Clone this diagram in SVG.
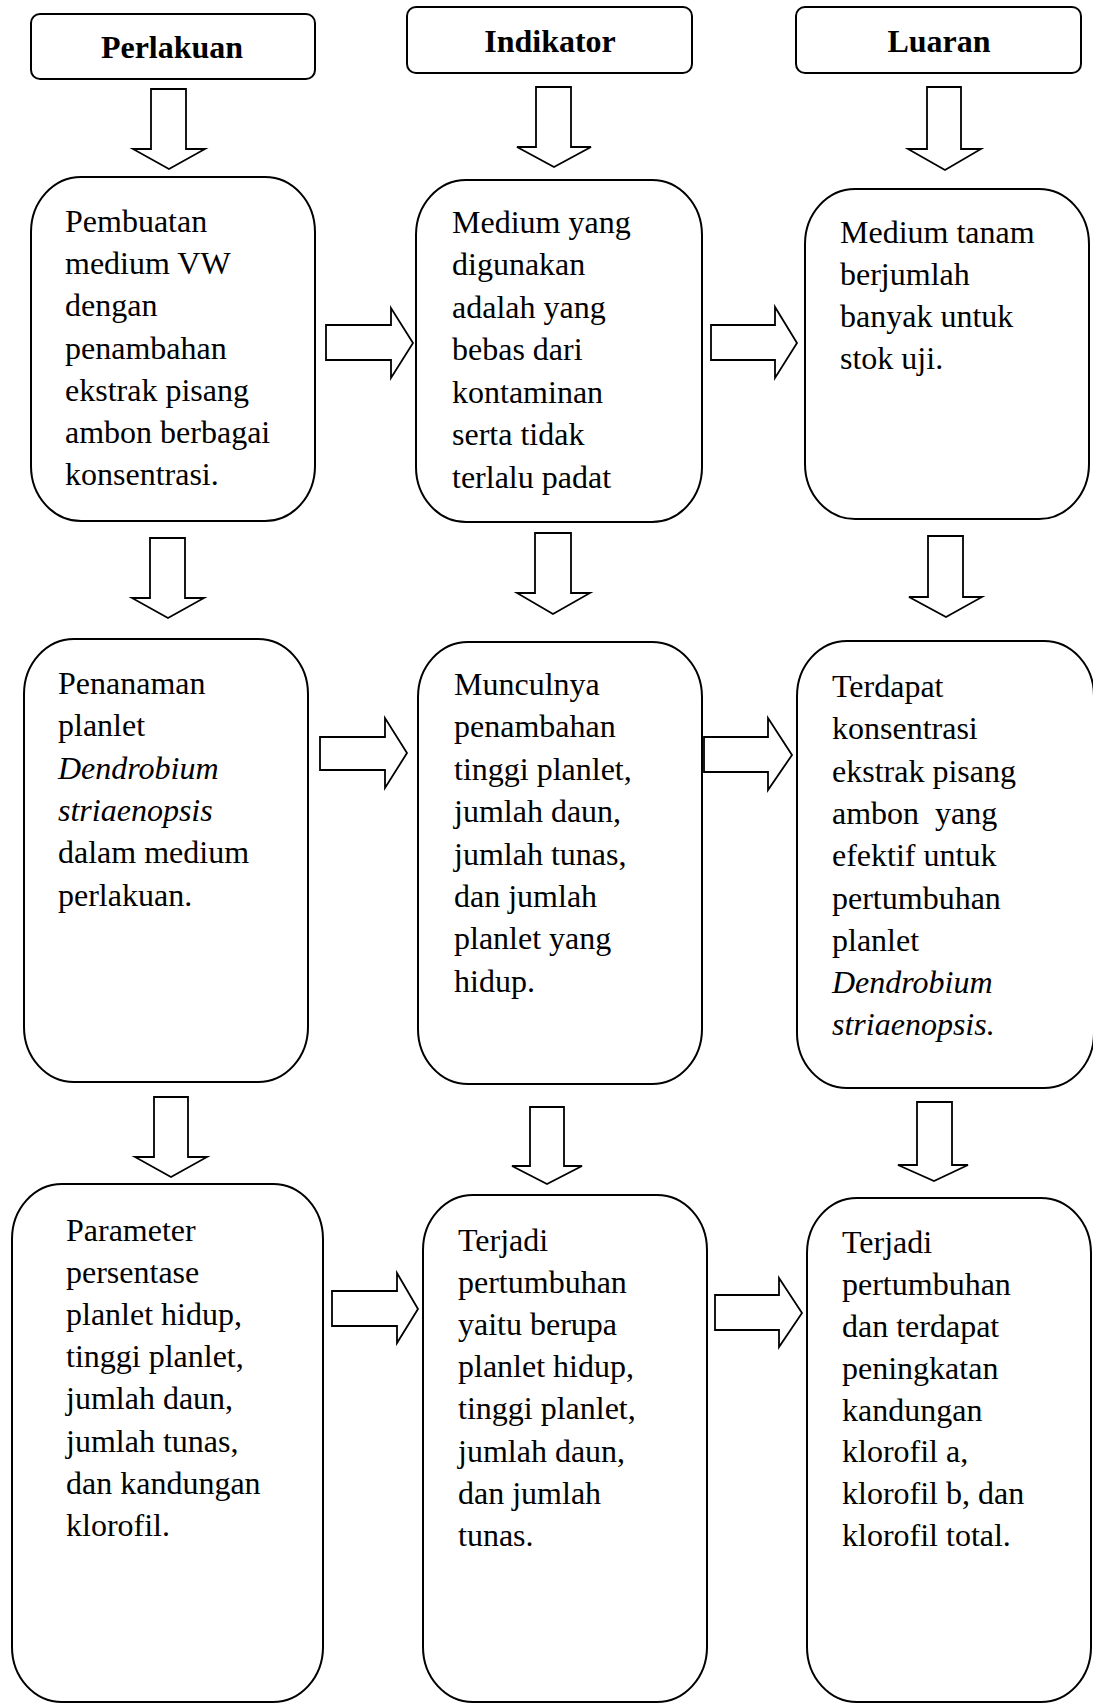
<svg xmlns="http://www.w3.org/2000/svg" width="1093" height="1704" viewBox="0 0 1093 1704">
<style>
.box{fill:#fff;stroke:#000;stroke-width:2}
.arr{fill:#fff;stroke:#000;stroke-width:1.8;stroke-linejoin:miter}
.h{font-family:"Liberation Serif","Times New Roman",serif;font-size:32px;font-weight:bold;text-anchor:middle;fill:#000}
.t{font-family:"Liberation Serif","Times New Roman",serif;font-size:32px;fill:#000}
.i{font-style:italic}
</style>
<rect width="1093" height="1704" fill="#fff"/>
<g id="connectors">
<polygon class="arr" points="151,89 186,89 186,149 205,149 169,169 133,149 151,149"/>
<polygon class="arr" points="536,87 571,87 571,147 591,147 554,167 517,147 536,147"/>
<polygon class="arr" points="927,87 961,87 961,149 981,149 945,170 908,149 927,149"/>
<polygon class="arr" points="150,538 185,538 185,598 204,598 168,618 132,598 150,598"/>
<polygon class="arr" points="535,533 571,533 571,593 590,593 553,614 517,593 535,593"/>
<polygon class="arr" points="928,536 963,536 963,597 982,597 946,617 909,597 928,597"/>
<polygon class="arr" points="154,1097 188,1097 188,1157 207,1157 171,1177 135,1157 154,1157"/>
<polygon class="arr" points="530,1107 564,1107 564,1166 582,1166 547,1184 512,1166 530,1166"/>
<polygon class="arr" points="917,1102 952,1102 952,1165 968,1165 934,1181 898,1165 917,1165"/>
<polygon class="arr" points="326,325 391,325 391,308 413,343 391,378 391,360 326,360"/>
<polygon class="arr" points="711,325 775,325 775,307 797,343 775,378 775,360 711,360"/>
<polygon class="arr" points="320,737 385,737 385,718 407,753 385,788 385,770 320,770"/>
<polygon class="arr" points="704,737 768,737 768,718 792,755 768,790 768,772 704,772"/>
<polygon class="arr" points="332,1291 397,1291 397,1273 418,1309 397,1343 397,1326 332,1326"/>
<polygon class="arr" points="715,1295 779,1295 779,1278 802,1313 779,1347 779,1330 715,1330"/>
</g>
<g id="h1"><rect class="box" x="31" y="14" width="284" height="65" rx="9"/><text class="h" x="172" y="58">Perlakuan</text></g>
<g id="h2"><rect class="box" x="407" y="7" width="285" height="66" rx="9"/><text class="h" x="550" y="52">Indikator</text></g>
<g id="h3"><rect class="box" x="796" y="7" width="285" height="66" rx="9"/><text class="h" x="939" y="52">Luaran</text></g>

<g id="a1"><rect class="box" x="31" y="177" width="284" height="344" rx="50" ry="55"/>
<text class="t"><tspan x="65" y="232">Pembuatan</tspan><tspan x="65" y="274">medium VW</tspan><tspan x="65" y="316">dengan</tspan><tspan x="65" y="359">penambahan</tspan><tspan x="65" y="401">ekstrak pisang</tspan><tspan x="65" y="443">ambon berbagai</tspan><tspan x="65" y="485">konsentrasi.</tspan></text></g>

<g id="b1"><rect class="box" x="416" y="180" width="286" height="342" rx="50" ry="55"/>
<text class="t"><tspan x="452" y="233">Medium yang</tspan><tspan x="452" y="275">digunakan</tspan><tspan x="452" y="318">adalah yang</tspan><tspan x="452" y="360">bebas dari</tspan><tspan x="452" y="403">kontaminan</tspan><tspan x="452" y="445">serta tidak</tspan><tspan x="452" y="488">terlalu padat</tspan></text></g>

<g id="c1"><rect class="box" x="805" y="189" width="284" height="330" rx="50" ry="55"/>
<text class="t"><tspan x="840" y="243">Medium tanam</tspan><tspan x="840" y="285">berjumlah</tspan><tspan x="840" y="327">banyak untuk</tspan><tspan x="840" y="369">stok uji.</tspan></text></g>

<g id="a2"><rect class="box" x="24" y="639" width="284" height="443" rx="50" ry="55"/>
<text class="t"><tspan x="58" y="694">Penanaman</tspan><tspan x="58" y="736">planlet</tspan><tspan x="58" y="779" class="i">Dendrobium</tspan><tspan x="58" y="821" class="i">striaenopsis</tspan><tspan x="58" y="863">dalam medium</tspan><tspan x="58" y="906">perlakuan.</tspan></text></g>

<g id="b2"><rect class="box" x="418" y="642" width="284" height="442" rx="50" ry="55"/>
<text class="t"><tspan x="454" y="695">Munculnya</tspan><tspan x="454" y="737">penambahan</tspan><tspan x="454" y="780">tinggi planlet,</tspan><tspan x="454" y="822">jumlah daun,</tspan><tspan x="454" y="865">jumlah tunas,</tspan><tspan x="454" y="907">dan jumlah</tspan><tspan x="454" y="949">planlet yang</tspan><tspan x="454" y="992">hidup.</tspan></text></g>

<g id="c2"><rect class="box" x="797" y="641" width="297" height="447" rx="50" ry="55"/>
<text class="t"><tspan x="832" y="697">Terdapat</tspan><tspan x="832" y="739">konsentrasi</tspan><tspan x="832" y="782">ekstrak pisang</tspan><tspan x="832" y="824" xml:space="preserve">ambon  yang</tspan><tspan x="832" y="866">efektif untuk</tspan><tspan x="832" y="909">pertumbuhan</tspan><tspan x="832" y="951">planlet</tspan><tspan x="832" y="993" class="i">Dendrobium</tspan><tspan x="832" y="1035" class="i">striaenopsis.</tspan></text></g>

<g id="a3"><rect class="box" x="12" y="1184" width="311" height="518" rx="50" ry="55"/>
<text class="t"><tspan x="66" y="1241">Parameter</tspan><tspan x="66" y="1283">persentase</tspan><tspan x="66" y="1325">planlet hidup,</tspan><tspan x="66" y="1367">tinggi planlet,</tspan><tspan x="66" y="1409">jumlah daun,</tspan><tspan x="66" y="1452">jumlah tunas,</tspan><tspan x="66" y="1494">dan kandungan</tspan><tspan x="66" y="1536">klorofil.</tspan></text></g>

<g id="b3"><rect class="box" x="423" y="1195" width="284" height="507" rx="50" ry="55"/>
<text class="t"><tspan x="458" y="1251">Terjadi</tspan><tspan x="458" y="1293">pertumbuhan</tspan><tspan x="458" y="1335">yaitu berupa</tspan><tspan x="458" y="1377">planlet hidup,</tspan><tspan x="458" y="1419">tinggi planlet,</tspan><tspan x="458" y="1462">jumlah daun,</tspan><tspan x="458" y="1504">dan jumlah</tspan><tspan x="458" y="1546">tunas.</tspan></text></g>

<g id="c3"><rect class="box" x="807" y="1198" width="284" height="504" rx="50" ry="55"/>
<text class="t"><tspan x="842" y="1253">Terjadi</tspan><tspan x="842" y="1295">pertumbuhan</tspan><tspan x="842" y="1337">dan terdapat</tspan><tspan x="842" y="1379">peningkatan</tspan><tspan x="842" y="1421">kandungan</tspan><tspan x="842" y="1462">klorofil a,</tspan><tspan x="842" y="1504">klorofil b, dan</tspan><tspan x="842" y="1546">klorofil total.</tspan></text></g>
</svg>
